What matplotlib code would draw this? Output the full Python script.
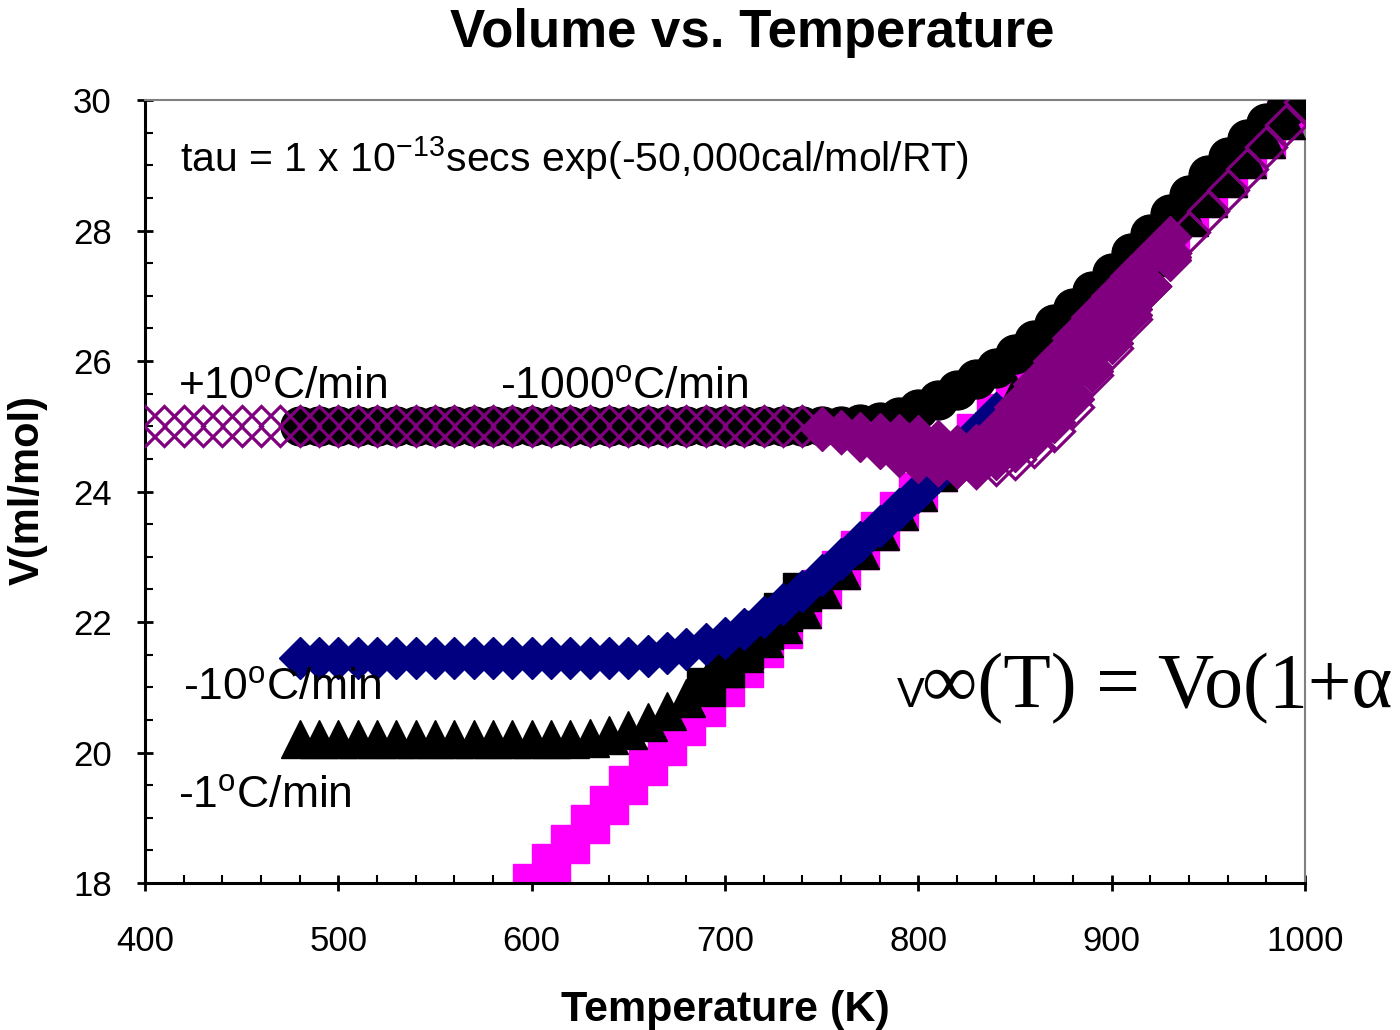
import numpy as np
import matplotlib
matplotlib.use('Agg')
import matplotlib.pyplot as plt
from matplotlib.ticker import MultipleLocator

SANS = 'Liberation Sans'
SERIF = 'Liberation Serif'
plt.rcParams['font.family'] = [SANS, 'DejaVu Sans']
plt.rcParams['mathtext.fontset'] = 'custom'
plt.rcParams['mathtext.rm'] = SANS
plt.rcParams['mathtext.it'] = SANS

# equilibrium line (magenta squares)
T_eq = np.arange(600, 1001, 10)
V_eq = [18.0, 18.3, 18.6, 18.9, 19.2, 19.5, 19.8, 20.1, 20.4, 20.7,
        21.0, 21.3, 21.6, 21.9, 22.2, 22.5, 22.8, 23.1, 23.4, 23.7,
        24.0, 24.3, 24.6, 24.9, 25.2, 25.5, 25.8, 26.1, 26.4, 26.7,
        27.0, 27.3, 27.6, 27.9, 28.2, 28.5, 28.8, 29.1, 29.4, 29.7, 30.0]

# cooling runs
T_cool = np.arange(480, 1001, 10)
V_1 = [20.2] * 15 + [20.22, 20.27, 20.35, 20.47, 20.63, 20.83, 21.07, 21.3, 21.52, 21.75,
                     21.97, 22.2, 22.5, 22.8, 23.1, 23.4, 23.7, 24.0, 24.3, 24.6,
                     24.9, 25.2, 25.5, 25.8, 26.1, 26.4, 26.7, 27.0, 27.3, 27.6,
                     27.9, 28.2, 28.5, 28.8, 29.1, 29.4, 29.7, 30.0]
V_1000 = [25.0] * 29 + [25.03, 25.07, 25.14, 25.27, 25.4, 25.55, 25.72, 25.9, 26.1, 26.32,
                        26.56, 26.82, 27.08, 27.35, 27.65, 27.95, 28.25, 28.55, 28.85, 29.12,
                        29.4, 29.65, 29.88, 30.05]
T_10 = np.arange(480, 841, 10)
V_10 = [21.45] * 18 + [21.48, 21.52, 21.58, 21.66, 21.76, 21.9, 22.07, 22.27, 22.48, 22.72,
                       22.97, 23.22, 23.47, 23.73, 24.0, 24.3, 24.6, 24.9, 25.2]
T_sq = [690, 700, 710, 720, 730, 740]
V_sq = [21.0, 21.3, 21.57, 21.87, 22.15, 22.46]

# heating run +10 C/min
T_heat = np.arange(400, 1001, 10)
V_heat = [25.0] * 35 + [24.97, 24.9, 24.8, 24.68, 24.56, 24.47, 24.41, 24.38, 24.36, 24.4,
                        24.5, 24.68, 24.92, 25.3, 25.78, 26.2, 26.65, 27.15, 27.65, 27.98,
                        28.3, 28.62, 28.95, 29.28, 29.62, 29.97]
# dense (filled-looking) part of the heating data
T_fill_top = np.arange(750, 931, 10)
V_fill_top = [24.95, 24.92, 24.9, 24.88, 24.87, 24.85, 24.78, 24.7, 24.72, 24.95,
              25.3, 25.65, 26.0, 26.35, 26.68, 27.0, 27.3, 27.6, 27.9]
T_fill_mid = np.arange(840, 931, 10)
V_fill_mid = [24.85, 25.05, 25.3, 25.55, 25.8, 26.1, 26.45, 26.8, 27.15, 27.55]
T_fill_low = np.arange(770, 931, 10)
V_fill_low = [24.78, 24.66, 24.55, 24.46, 24.41, 24.38, 24.37, 24.5, 24.62, 24.82,
              25.07, 25.42, 25.85, 26.28, 26.7, 27.15, 27.6]

fig = plt.figure(figsize=(14, 10.3), dpi=100)
ax = fig.add_axes([0.1036, 0.1427, 0.8285, 0.7602])

ax.plot(T_eq, V_eq, ls='none', marker='s', ms=27.5, color='#FF00FF', mec='#FF00FF', mew=1, zorder=2)
ax.plot(T_cool, V_1, ls='none', marker='^', ms=28, color='black', mec='black', mew=1, zorder=3)
ax.plot(T_sq, V_sq, ls='none', marker='s', ms=27.5, color='black', mec='black', mew=1, zorder=3)
ax.plot(T_10, V_10, ls='none', marker='D', ms=21, color='#000080', mec='#000080', mew=1, zorder=4)
ax.plot(T_cool, V_1000, ls='none', marker='o', ms=28, color='black', mec='black', mew=1, zorder=5)
for T_f, V_f in [(T_fill_top, V_fill_top), (T_fill_mid, V_fill_mid), (T_fill_low, V_fill_low)]:
    ax.plot(T_f, V_f, ls='none', marker='D', ms=21, color='#800080', mec='#800080', mew=1, zorder=6)
ax.plot(T_heat, V_heat, ls='none', marker='D', ms=20, mfc='none', mec='#800080', mew=2.3, zorder=7)

ax.set_xlim(400, 1000)
ax.set_ylim(18, 30)
ax.xaxis.set_major_locator(MultipleLocator(100))
ax.xaxis.set_minor_locator(MultipleLocator(20))
ax.yaxis.set_major_locator(MultipleLocator(2))
ax.yaxis.set_minor_locator(MultipleLocator(0.5))
ax.tick_params(which='major', direction='inout', length=12, width=2, labelsize=25, color='black')
ax.tick_params(which='minor', direction='in', length=6, width=1.5, color='black')
ax.tick_params(axis='x', which='major', pad=24)
ax.tick_params(axis='y', which='major', pad=18)

for s in ['left', 'bottom']:
    ax.spines[s].set_linewidth(2.2)
    ax.spines[s].set_color('black')
for s in ['top', 'right']:
    ax.spines[s].set_linewidth(1.5)
    ax.spines[s].set_color('#808080')

fig.text(0.537, 0.968, 'Volume vs. Temperature', ha='center', va='center',
         fontsize=38, fontweight='bold')
fig.text(0.518, 0.019, 'Temperature (K)', ha='center', va='center',
         fontsize=31, fontweight='bold')
fig.text(0.02, 0.524, 'V(ml/mol)', ha='center', va='center', rotation=90,
         fontsize=30, fontweight='bold')

ax.text(418, 29.11, r'tau = 1 x 10$^{\mathrm{-13}}$secs exp(-50,000cal/mol/RT)', fontsize=29.5, va='center', zorder=10)
ax.text(417, 25.6, r'+10$^{\mathrm{o}}$C/min', fontsize=32, va='center', zorder=10)
ax.text(583.6, 25.6, r'-1000$^{\mathrm{o}}$C/min', fontsize=32, va='center', zorder=10)
ax.text(419.7, 20.98, r'-10$^{\mathrm{o}}$C/min', fontsize=32, va='center', zorder=10)
ax.text(417, 19.33, r'-1$^{\mathrm{o}}$C/min', fontsize=32, va='center', zorder=10)
ax.text(789, 20.7, 'V', fontsize=30, va='baseline', zorder=10)
ax.text(802, 20.7, '\u221e(T) = Vo(1+\u03b1', fontsize=56, va='baseline',
        family=[SERIF, 'DejaVu Serif'], zorder=10)

fig.savefig('out.png', dpi=100)
